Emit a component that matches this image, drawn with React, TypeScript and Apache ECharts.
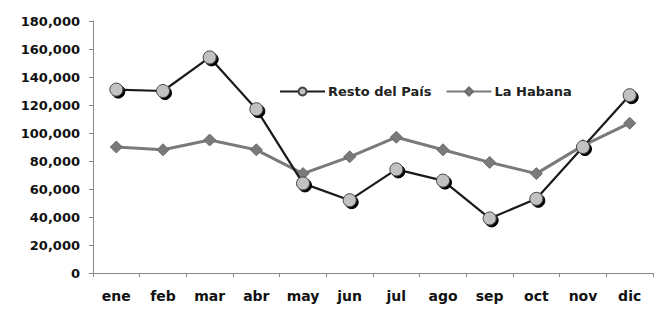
import React, { useEffect, useRef } from "react";
import * as echarts from "echarts";

const months = ["ene", "feb", "mar", "abr", "may", "jun", "jul", "ago", "sep", "oct", "nov", "dic"];
const restoDelPais = [131000, 130000, 154000, 117000, 64000, 52000, 74000, 66000, 39000, 53000, 90000, 127000];
const laHabana = [90000, 88000, 95000, 88000, 71000, 83000, 97000, 88000, 79000, 71000, 91000, 107000];
const seriesNames = ["Resto del País", "La Habana"];

const FONT = "'DejaVu Sans', sans-serif";

export default function App() {
  const ref = useRef<HTMLDivElement>(null);
  useEffect(() => {
    if (!ref.current) return;
    const chart = echarts.init(ref.current, null, { renderer: "svg" });
    chart.setOption({
      animation: false,
      backgroundColor: "#ffffff",
      grid: { left: 93, right: 5, top: 21, bottom: 37, containLabel: false },
      legend: {
        data: seriesNames,
        left: 274,
        top: 80,
        itemWidth: 45,
        itemHeight: 10,
        itemGap: 14,
        textStyle: { fontFamily: FONT, fontSize: 13, fontWeight: "bold", color: "#222", padding: [0, 0, 0, -2] },
      },
      xAxis: {
        type: "category",
        data: months,
        boundaryGap: true,
        axisLine: { lineStyle: { color: "#888", width: 1 } },
        axisTick: { show: true, length: 4, lineStyle: { color: "#888" } },
        axisLabel: { fontFamily: FONT, fontSize: 14, fontWeight: "bold", color: "#111", margin: 16, interval: 0 },
        splitLine: { show: false },
      },
      yAxis: {
        type: "value",
        min: 0,
        max: 180000,
        interval: 20000,
        axisLine: { show: true, lineStyle: { color: "#888", width: 1 } },
        axisTick: { show: true, length: 4, lineStyle: { color: "#888" } },
        axisLabel: {
          fontFamily: FONT,
          fontSize: 13,
          fontWeight: "bold",
          color: "#111",
          margin: 13,
          formatter: (v: number) => v.toLocaleString("en-US"),
        },
        splitLine: { show: false },
      },
      series: [
        {
          name: seriesNames[1],
          type: "line",
          data: laHabana,
          symbol: "diamond",
          symbolSize: 12,
          z: 2,
          lineStyle: { color: "#7a7a7a", width: 3 },
          itemStyle: { color: "#7a7a7a", borderColor: "#6a6a6a", borderWidth: 1 },
        },
        {
          name: seriesNames[0],
          type: "line",
          data: restoDelPais,
          symbol: "circle",
          symbolSize: 13,
          z: 3,
          lineStyle: { color: "#1a1a1a", width: 2.2 },
          itemStyle: {
            color: "#c2c2c2",
            borderColor: "#444",
            borderWidth: 1,
            shadowColor: "#000",
            shadowBlur: 1,
            shadowOffsetX: 2,
            shadowOffsetY: 2,
          },
        },
      ],
    });
    return () => chart.dispose();
  }, []);
  return <div ref={ref} style={{ width: 658, height: 310, position: "absolute", left: 0, top: 0 }} />;
}
